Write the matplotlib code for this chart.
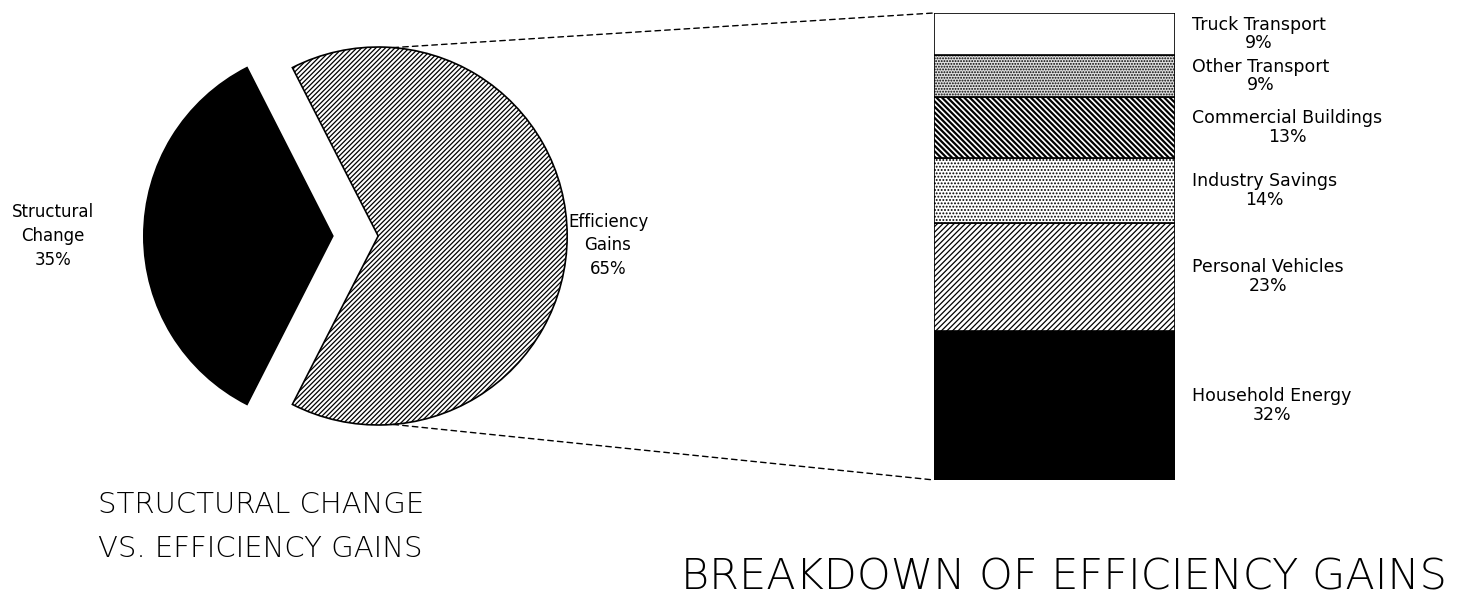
import numpy as np
import matplotlib
matplotlib.use('Agg')
import matplotlib.pyplot as plt
from matplotlib.patches import ConnectionPatch

# Pie: structural change vs efficiency gains (%)
pie_labels = ['Efficiency\nGains', 'Structural\nChange']
pie_values = [65, 35]

# Stacked bar: breakdown of efficiency gains (%), bottom to top
bar_labels = ['Household Energy', 'Personal Vehicles', 'Industry Savings',
              'Commercial Buildings', 'Other Transport', 'Truck Transport']
bar_values = [32, 23, 14, 13, 9, 9]

plt.rcParams['hatch.linewidth'] = 0.9
plt.rcParams['font.family'] = ['DejaVu Sans']

fig = plt.figure(figsize=(14.76, 5.95), dpi=100)

# ---- pie ----
ax1 = fig.add_axes([0.0808, 0.2063, 0.3201, 0.7941])
start = -pie_values[0] / 100 * 360 / 2
wedges, _ = ax1.pie(pie_values, startangle=start, explode=[0.12, 0.12],
                    colors=['white', 'black'], radius=1.0,
                    wedgeprops=dict(edgecolor='black', linewidth=1.2))
wedges[0].set_hatch('///////')
ax1.set_xlim(-1.25, 1.25)
ax1.set_ylim(-1.25, 1.25)
ax1.set_aspect('equal')
ax1.axis('off')

ax1.text(-1.817, 0.0, '%s\n%d%%' % (pie_labels[1], pie_values[1]),
         ha='left', va='center', multialignment='center', fontsize=12,
         linespacing=1.4)
ax1.text(1.124, -0.05, '%s\n%d%%' % (pie_labels[0], pie_values[0]),
         ha='left', va='center', multialignment='center', fontsize=12,
         linespacing=1.4)

# ---- stacked bar ----
ax2 = fig.add_axes([0.6328, 0.1933, 0.1633, 0.7849])
fills = ['black', 'white', 'white', 'white', '#dedede', 'white']
hatches = [None, '//////', '.....', '\\' * 6, '......', None]
bottoms = np.concatenate([[0], np.cumsum(bar_values)[:-1]])
for v, b, fc, h, lab in zip(bar_values, bottoms, fills, hatches, bar_labels):
    bars = ax2.bar(0.5, v, width=1.0, bottom=b, color=fc, edgecolor='black',
                   linewidth=1.2, hatch=h)
    if h == '\\' * 6:
        try:
            bars[0].set_hatch_linewidth(1.6)
        except AttributeError:
            pass
    ax2.text(1.07, b + v / 2, '%s\n%d%%' % (lab, v), ha='left', va='center',
             multialignment='center', fontsize=12.5, linespacing=1.05)
ax2.set_xlim(0, 1)
ax2.set_ylim(0, 100)
ax2.axis('off')

# dashed lines linking the efficiency wedge to the bar
cx = 0.12
for ang, ytop in [(85.5, 100), (-85.5, 0)]:
    p = (cx + np.cos(np.radians(ang)), np.sin(np.radians(ang)))
    con = ConnectionPatch(xyA=p, coordsA=ax1.transData,
                          xyB=(0, ytop), coordsB=ax2.transData,
                          linestyle=(0, (4, 3)), linewidth=1.0, color='black')
    fig.add_artist(con)

# titles
tfont = dict(family=['DejaVu Sans'], fontweight=200)
fig.text(98 / 1476, 0.138, 'STRUCTURAL CHANGE', ha='left', va='baseline',
         fontsize=21, **tfont)
fig.text(98 / 1476, 0.064, 'VS. EFFICIENCY GAINS', ha='left', va='baseline',
         fontsize=21, **tfont)
fig.text(681 / 1476, 0.009, 'BREAKDOWN OF EFFICIENCY GAINS', ha='left',
         va='baseline', fontsize=31, **tfont)

fig.savefig('out.png', dpi=100)
